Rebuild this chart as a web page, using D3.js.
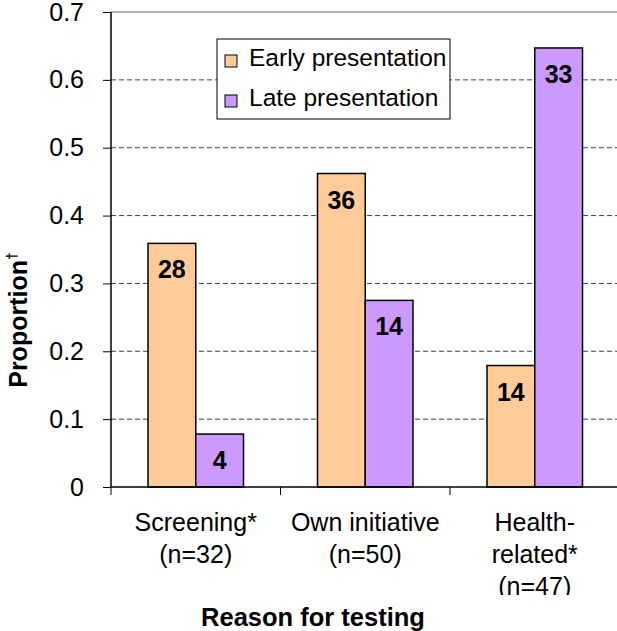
<!DOCTYPE html>
<html>
<head>
<meta charset="utf-8">
<script src="https://cdn.jsdelivr.net/npm/d3@7"></script>
<style>
  body { margin: 0; background: #fff; }
  svg { font-family: "Liberation Sans", Arial, sans-serif; }
</style>
</head>
<body>
<svg id="canvas" width="617" height="631"></svg>
<script>
let categories = ['Screening', 'Own initiative', 'Health-related']
let categoryLines = [['Screening*', '(n=32)'], ['Own initiative', '(n=50)'], ['Health-', 'related*', '(n=47)']]
let series = ['Early presentation', 'Late presentation']
let colors = ['#FFCC99', '#CC99FF']
let earlyValues = [0.359, 0.462, 0.179]
let lateValues = [0.078, 0.275, 0.647]
let earlyCounts = [28, 36, 14]
let lateCounts = [4, 14, 33]
let yTicks = [0, 0.1, 0.2, 0.3, 0.4, 0.5, 0.6, 0.7]

let canvas = d3.select('#canvas')

let plotLeft = 111, plotRight = 619.5, plotTop = 12, plotBottom = 487

let x = d3.scaleBand().domain(categories).range([plotLeft, plotRight])
let xSub = d3.scaleBand().domain(series).range([37, x.bandwidth() - 37])
let y = d3.scaleLinear().domain([0, 0.7]).range([plotBottom, plotTop])

// the third label line is cut off at the bottom in the original
canvas.append('clipPath').attr('id', 'clipLabels')
    .append('rect').attr('x', 0).attr('y', 0).attr('width', 617).attr('height', 595)

// gridlines
canvas.append('g')
    .selectAll('line')
    .data(yTicks.filter(t => t > 0 && t < 0.7))
    .enter()
    .append('line')
    .attr('x1', plotLeft).attr('x2', 617)
    .attr('y1', d => y(d)).attr('y2', d => y(d))
    .attr('stroke', '#444')
    .attr('stroke-width', 1)
    .attr('stroke-dasharray', '5,3')

// top border
canvas.append('line')
    .attr('x1', plotLeft).attr('x2', 617)
    .attr('y1', y(0.7)).attr('y2', y(0.7))
    .attr('stroke', '#999')
    .attr('stroke-width', 1.5)

// bars
let rows = categories.map((c, i) => ({
    category: c,
    values: [
        { s: series[0], v: earlyValues[i], n: earlyCounts[i], color: colors[0] },
        { s: series[1], v: lateValues[i], n: lateCounts[i], color: colors[1] }
    ]
}))

let group = canvas.selectAll('g.group')
    .data(rows)
    .enter()
    .append('g')
    .attr('class', 'group')
    .attr('transform', d => 'translate(' + x(d.category) + ',0)')

let bar = group.selectAll('g.bar')
    .data(d => d.values)
    .enter()
    .append('g')
    .attr('class', 'bar')

bar.append('rect')
    .attr('x', d => xSub(d.s))
    .attr('y', d => y(d.v))
    .attr('width', xSub.bandwidth())
    .attr('height', d => y(0) - y(d.v))
    .attr('fill', d => d.color)
    .attr('stroke', '#000')
    .attr('stroke-width', 1.5)

bar.append('text')
    .text(d => d.n)
    .attr('x', d => xSub(d.s) + xSub.bandwidth() / 2)
    .attr('y', d => y(d.v) + 35)
    .attr('text-anchor', 'middle')
    .attr('font-size', 25)
    .attr('font-weight', 'bold')

// y axis
let yAxis = d3.axisLeft(y)
    .tickValues(yTicks)
    .tickSize(8)
    .tickPadding(19)
    .tickFormat(d => d === 0 ? '0' : d.toFixed(1))

let yG = canvas.append('g')
    .attr('transform', 'translate(' + plotLeft + ',0)')
    .call(yAxis)
yG.select('.domain').attr('stroke', '#000').attr('stroke-width', 1.5).attr('d', 'M0,' + plotTop + 'V' + plotBottom)
yG.selectAll('.tick line').attr('stroke', '#000')
yG.selectAll('.tick text')
    .attr('font-size', 25)
    .attr('font-family', '"Liberation Sans", Arial, sans-serif')
    .attr('fill', '#000')

// x axis
canvas.append('line')
    .attr('x1', plotLeft).attr('x2', 617)
    .attr('y1', plotBottom).attr('y2', plotBottom)
    .attr('stroke', '#000')
    .attr('stroke-width', 1.5)

canvas.append('g')
    .selectAll('line')
    .data(categories.concat(['end']))
    .enter()
    .append('line')
    .attr('x1', (d, i) => i < categories.length ? x(d) : plotRight)
    .attr('x2', (d, i) => i < categories.length ? x(d) : plotRight)
    .attr('y1', plotBottom).attr('y2', plotBottom + 8)
    .attr('stroke', '#000')

let labels = canvas.append('g').attr('clip-path', 'url(#clipLabels)')
labels.selectAll('text')
    .data(categories)
    .enter()
    .append('text')
    .attr('text-anchor', 'middle')
    .attr('font-size', 25)
    .attr('transform', d => 'translate(' + (x(d) + x.bandwidth() / 2) + ',531)')
    .each(function (d, i) {
        let t = d3.select(this)
        categoryLines[i].forEach((line, j) => {
            t.append('tspan').attr('x', 0).attr('y', j * 32).text(line)
        })
    })

// axis titles
canvas.append('text')
    .text('Reason for testing')
    .attr('x', 313)
    .attr('y', 626)
    .attr('text-anchor', 'middle')
    .attr('font-size', 25.5)
    .attr('font-weight', 'bold')

let yTitle = canvas.append('text')
    .attr('transform', 'translate(27,320) rotate(-90)')
    .attr('text-anchor', 'middle')
    .attr('font-size', 25)
    .attr('font-weight', 'bold')
yTitle.append('tspan').text('Proportion')
yTitle.append('tspan').text('†').attr('font-size', 14).attr('dy', -10)

// legend
let legend = canvas.append('g')
legend.append('rect')
    .attr('x', 217).attr('y', 39)
    .attr('width', 233).attr('height', 80)
    .attr('fill', '#fff')
    .attr('stroke', '#000')

let item = legend.selectAll('g.item')
    .data(series)
    .enter()
    .append('g')
    .attr('class', 'item')
    .attr('transform', (d, i) => 'translate(0,' + (i * 40) + ')')

item.append('rect')
    .attr('x', 225).attr('y', 55)
    .attr('width', 12).attr('height', 12)
    .attr('fill', (d, i) => colors[i])
    .attr('stroke', '#000')

item.append('text')
    .text(d => d)
    .attr('x', 249)
    .attr('y', 66)
    .attr('font-size', 24.5)
</script>
</body>
</html>
